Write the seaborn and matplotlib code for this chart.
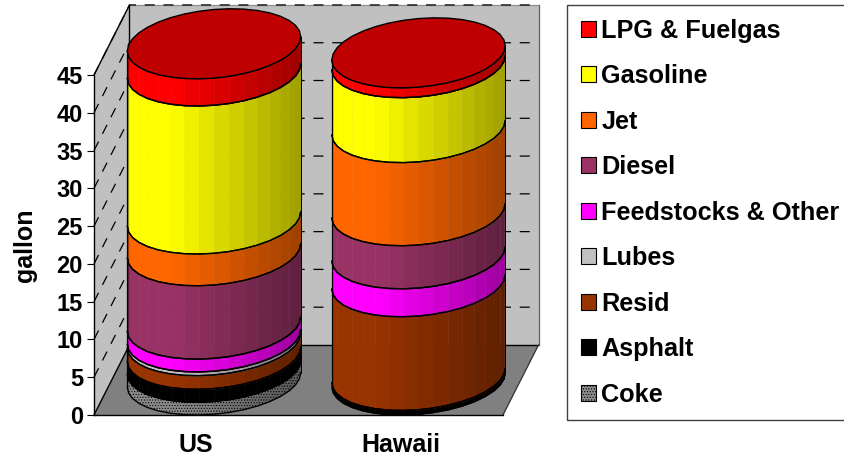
import numpy as np
import matplotlib
matplotlib.use("Agg")
import matplotlib.pyplot as plt
import matplotlib.colors as mcolors
from matplotlib.patches import Patch
import seaborn as sns

regions = ["US", "Hawaii"]
products = ["Coke", "Asphalt", "Resid", "Lubes", "Feedstocks & Other",
            "Diesel", "Jet", "Gasoline", "LPG & Fuelgas"]
coke = [1.7, 0.0]
asphalt = [1.7, 0.6]
resid = [1.8, 12.4]
lubes = [0.5, 0.0]
feedstocks = [1.7, 3.7]
diesel = [9.7, 5.7]
jet = [4.2, 11.0]
gasoline = [19.6, 8.6]
lpg = [3.6, 1.3]
series = [coke, asphalt, resid, lubes, feedstocks, diesel, jet, gasoline, lpg]
colors = ["#8c8c8c", "#000000", "#993300", "#C0C0C0", "#FF00FF",
          "#993366", "#FF6600", "#FFFF00", "#FF0000"]
y_ticks = list(range(0, 50, 5))

# depth of the fake 3d box, in data units
DEPTH_X = 0.1736
DEPTH_Y = 9.27
N_FACETS = 18


def shade(u):
    f = 1.0 if u < 0.25 else 1.0 - 0.38 * (u - 0.25) / 0.75
    if u < 0.015:
        f = 0.62
    return f


def draw_walls(ax):
    x0, x1 = -0.5, 1.5
    top = 45
    ax.fill([x0, x0 + DEPTH_X, x0 + DEPTH_X, x0], [0, DEPTH_Y, top + DEPTH_Y, top],
            color="#C0C0C0", clip_on=False, zorder=0, lw=0)
    ax.fill([x0 + DEPTH_X, x1 + DEPTH_X, x1 + DEPTH_X, x0 + DEPTH_X],
            [DEPTH_Y, DEPTH_Y, top + DEPTH_Y, top + DEPTH_Y],
            color="#C0C0C0", clip_on=False, zorder=0, lw=0)
    ax.fill([x0, x1, x1 + DEPTH_X, x0 + DEPTH_X], [0, 0, DEPTH_Y, DEPTH_Y],
            color="#808080", clip_on=False, zorder=0, lw=0)
    # box edges
    ax.plot([x0 + DEPTH_X, x1 + DEPTH_X], [top + DEPTH_Y, top + DEPTH_Y],
            color="#909090", lw=0.9, clip_on=False, zorder=1)
    ax.plot([x0, x0 + DEPTH_X, x0 + DEPTH_X], [top, top + DEPTH_Y, DEPTH_Y],
            color="black", lw=1.0, clip_on=False, zorder=1)
    ax.plot([x0 + DEPTH_X, x1 + DEPTH_X], [DEPTH_Y, DEPTH_Y],
            color="black", lw=1.0, clip_on=False, zorder=1)
    ax.plot([x1 + DEPTH_X, x1 + DEPTH_X], [DEPTH_Y, top + DEPTH_Y],
            color="#606060", lw=0.9, clip_on=False, zorder=1)
    ax.plot([x0, x0 + DEPTH_X], [0, DEPTH_Y], color="black", lw=1.0, clip_on=False, zorder=1)
    ax.plot([x1, x1 + DEPTH_X], [0, DEPTH_Y], color="#303030", lw=0.9, clip_on=False, zorder=1)
    for v in y_ticks[1:]:
        ax.plot([x0, x0 + DEPTH_X, x1 + DEPTH_X], [v, v + DEPTH_Y, v + DEPTH_Y],
                color="black", lw=0.9, ls=(0, (8, 7)), clip_on=False, zorder=1)


def draw_segment(ax, rect, color, hatched, is_top):
    # turn one stacked bar into a slice of a cylinder standing on the floor
    cx = rect.get_x() + rect.get_width() / 2 + DEPTH_X / 2
    a = rect.get_width() / 2
    y0, y1 = rect.get_y(), rect.get_y() + rect.get_height()
    hx, hy = DEPTH_X / 2, DEPTH_Y / 2
    t0 = np.arctan2(hx, a)
    t = np.linspace(t0 + np.pi, t0 + 2 * np.pi, N_FACETS + 1)
    xs = cx + a * np.cos(t) + hx * np.sin(t)
    dy = hy * (np.sin(t) + 1)
    base = np.array(mcolors.to_rgb(color))
    left, right = xs[0], xs[-1]
    for i in range(N_FACETS):
        u = ((xs[i] + xs[i + 1]) / 2 - left) / (right - left)
        c = tuple(base * shade(u))
        xx = [xs[i], xs[i + 1]]
        if hatched:
            ax.fill_between(xx, y0 + dy[i:i + 2], y1 + dy[i:i + 2], facecolor=c,
                            edgecolor="black", hatch="......", lw=0,
                            clip_on=False, zorder=3)
        else:
            ax.fill_between(xx, y0 + dy[i:i + 2], y1 + dy[i:i + 2], color=c, lw=0.3,
                            clip_on=False, zorder=3)
    ax.plot(xs, y1 + dy, color="black", lw=1.0, clip_on=False, zorder=4)
    ax.plot(xs, y0 + dy, color="black", lw=1.0, clip_on=False, zorder=4)
    ax.plot([left, left], [y0 + dy[0], y1 + dy[0]], color="black", lw=0.9, clip_on=False, zorder=4)
    ax.plot([right, right], [y0 + dy[-1], y1 + dy[-1]], color="black", lw=0.7, clip_on=False, zorder=4)
    if is_top:
        full = np.linspace(0, 2 * np.pi, 2 * N_FACETS + 1) + t0
        ax.fill(cx + a * np.cos(full) + hx * np.sin(full), y1 + hy * (np.sin(full) + 1),
                facecolor=tuple(base * 0.75), edgecolor="black", lw=1.0,
                clip_on=False, zorder=5)


sns.set_style("white")
plt.rcParams["font.family"] = ["Liberation Sans", "DejaVu Sans"]
plt.rcParams["font.weight"] = "bold"
plt.rcParams["hatch.linewidth"] = 0.5
plt.rcParams["text.color"] = "black"
plt.rcParams["axes.labelcolor"] = "black"
plt.rcParams["xtick.labelcolor"] = "black"
plt.rcParams["ytick.labelcolor"] = "black"

fig = plt.figure(figsize=(8.44, 4.59), dpi=100)
ax = fig.add_axes([94 / 844, 1 - 415 / 459, (503 - 94) / 844, (415 - 75) / 459])

bottoms = np.zeros(2)
for vals, col, name in zip(series, colors, products):
    sns.barplot(x=regions, y=vals, bottom=bottoms, color=col, saturation=1,
                width=0.83, errorbar=None, ax=ax, label=name)
    bottoms = bottoms + np.array(vals)
if ax.get_legend():
    ax.get_legend().remove()

rects = list(ax.patches)
draw_walls(ax)
for i, rect in enumerate(rects):
    rect.set_visible(False)
    k = i // 2
    if rect.get_height() > 0:
        draw_segment(ax, rect, colors[k], products[k] == "Coke", k == len(series) - 1)

ax.set_xlim(-0.5, 1.5)
ax.set_ylim(0, 45)
ax.set_yticks(y_ticks)
ax.set_xticks([-0.5, 0.5, 1.5])
ax.set_xticklabels([])
ax.set_xticks([0, 1], labels=regions, minor=True)
ax.tick_params(axis="x", which="minor", length=0, pad=13, labelsize=18)
ax.tick_params(axis="x", which="major", length=5, width=0.8, color="black")
ax.tick_params(axis="y", length=5, width=0.8, color="black", labelsize=17, pad=3, left=True)
ax.set_ylabel("gallon", fontsize=18, fontweight="bold", labelpad=14)
ax.grid(False)
sns.despine(ax=ax, top=True, right=True)
for s in ["left", "bottom"]:
    ax.spines[s].set_color("black")
    ax.spines[s].set_linewidth(1.0)
    ax.spines[s].set_zorder(2)

handles = [Patch(facecolor=c, edgecolor="black", lw=0.8,
                 hatch="......" if n == "Coke" else None)
           for c, n in zip(colors, products)]
fig.legend(handles[::-1], products[::-1], loc="upper left",
           bbox_to_anchor=(567 / 844, 1 - 5 / 459), borderaxespad=0,
           fontsize=18.2, frameon=True, fancybox=False, edgecolor="#404040",
           framealpha=1, labelspacing=0.85, handlelength=0.6, handleheight=0.6,
           handletextpad=0.22, borderpad=0.54)

fig.savefig("out.png", dpi=100)
plt.close(fig)
